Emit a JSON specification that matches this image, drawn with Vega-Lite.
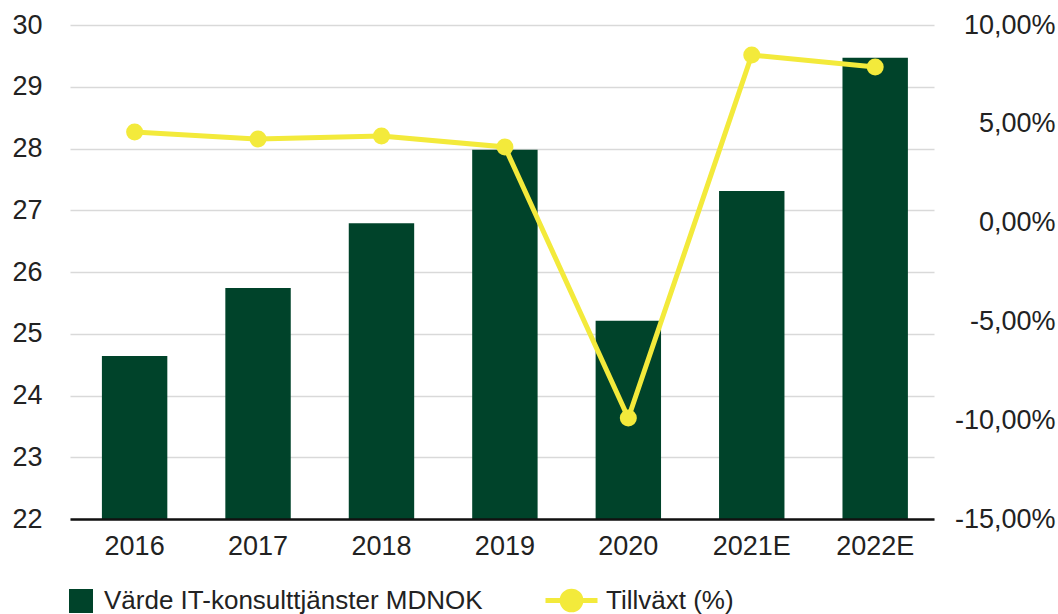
{
  "$schema": "https://vega.github.io/schema/vega-lite/v6.json",
  "width": 864,
  "height": 494,
  "autosize": {"type": "none"},
  "padding": {"left": 70, "top": 25, "right": 124, "bottom": 95},
  "background": "white",
  "config": {
    "view": {"stroke": null},
    "font": "Liberation Sans",
    "axis": {"labelFont": "Liberation Sans", "labelFontSize": 27, "labelColor": "#222222", "ticks": false, "title": null}
  },
  "data": {
    "values": [
      {"year": "2016", "value": 24.64, "growth": 4.59},
      {"year": "2017", "value": 25.74, "growth": 4.23},
      {"year": "2018", "value": 26.79, "growth": 4.38},
      {"year": "2019", "value": 27.98, "growth": 3.83},
      {"year": "2020", "value": 25.21, "growth": -9.89},
      {"year": "2021E", "value": 27.31, "growth": 8.48},
      {"year": "2022E", "value": 29.47, "growth": 7.87}
    ]
  },
  "encoding": {
    "x": {
      "field": "year",
      "type": "nominal",
      "sort": null,
      "scale": {"paddingInner": 0.47, "paddingOuter": 0.235, "align": 0.55},
      "axis": {"labelAngle": 0, "domain": true, "domainColor": "#111111", "domainWidth": 2.5, "labelPadding": 14, "grid": false, "zindex": 1}
    }
  },
  "layer": [
    {
      "mark": {"type": "bar"},
      "encoding": {
        "y": {
          "field": "value",
          "type": "quantitative",
          "scale": {"domain": [22, 30], "nice": false, "zero": false},
          "axis": {"values": [22, 23, 24, 25, 26, 27, 28, 29, 30], "domain": false, "grid": true, "gridColor": "#D9D9D9", "gridWidth": 1.5, "labelPadding": 28}
        },
        "y2": {"datum": 22},
        "fill": {
          "datum": "Värde IT-konsulttjänster MDNOK",
          "scale": {"range": ["#00432A"]},
          "legend": {
            "orient": "none",
            "legendX": -2,
            "legendY": 563,
            "title": null,
            "symbolType": "square",
            "symbolSize": 576,
            "symbolStrokeWidth": 0,
            "labelFont": "Liberation Sans",
            "labelFontSize": 26,
            "labelColor": "#222222",
            "labelOffset": 10,
            "labelLimit": 600,
            "padding": 0
          }
        }
      }
    },
    {
      "encoding": {
        "y": {
          "field": "growth",
          "type": "quantitative",
          "scale": {"domain": [-15, 10], "nice": false, "zero": false},
          "axis": {
            "orient": "right",
            "values": [-15, -10, -5, 0, 5, 10],
            "domain": false,
            "grid": false,
            "labelAlign": "right",
            "labelPadding": 121,
            "labelExpr": "replace(replace(format(datum.value, '.2f'), '.', ','), '\u2212', '-') + '%'"
          }
        }
      },
      "layer": [
        {
          "mark": {"type": "line", "strokeWidth": 5},
          "encoding": {
            "stroke": {
              "datum": "Tillväxt (%)",
              "scale": {"range": ["#F3EA3B"]},
              "legend": {
                "orient": "none",
                "legendX": 473,
                "legendY": 547,
                "title": null,
                "symbolType": "M-1,0H1M-0.36,0A0.36,0.36,0,1,1,0.36,0A0.36,0.36,0,1,1,-0.36,0Z",
                "symbolSize": 2704,
                "symbolStrokeWidth": 5,
                "symbolFillColor": "#F3EA3B",
                "symbolStrokeColor": "#F3EA3B",
                "labelFont": "Liberation Sans",
                "labelFontSize": 26,
                "labelColor": "#222222",
                "labelOffset": 6,
                "labelLimit": 600,
                "padding": 0,
                "encode": {"symbols": {"update": {"fill": {"value": "#F3EA3B"}, "stroke": {"value": "#F3EA3B"}, "strokeWidth": {"value": 5}, "opacity": {"value": 1}}}}
              }
            }
          }
        },
        {
          "mark": {"type": "point", "filled": true, "size": 290, "color": "#F3EA3B", "opacity": 1}
        }
      ]
    }
  ],
  "resolve": {"scale": {"y": "independent", "fill": "independent", "stroke": "independent"}}
}
